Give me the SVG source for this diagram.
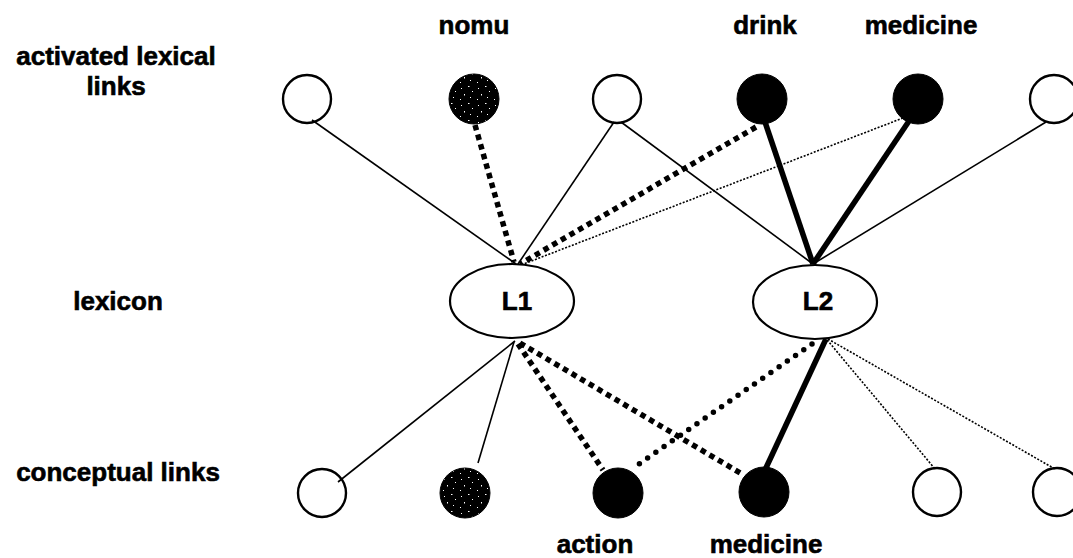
<svg xmlns="http://www.w3.org/2000/svg" width="1073" height="558" viewBox="0 0 1073 558">
<style>
  .lbl { font-family: "Liberation Sans", Arial, sans-serif; font-weight: bold; font-size: 26px; fill: #000; stroke: #000; stroke-width: 0.6; }
  .open { fill: none; stroke: #000; stroke-width: 2.4; }
  .solid { fill: #000; stroke: #000; stroke-width: 1; }
  .speck { fill: url(#speckle); stroke: #000; stroke-width: 1; }
  .lex { fill: #fff; stroke: #000; stroke-width: 2.2; }
  .thin { stroke: #000; stroke-width: 1.6; fill: none; }
  .thick { stroke: #000; stroke-width: 5.5; fill: none; }
  .sq { stroke: #000; stroke-width: 5.5; stroke-dasharray: 5.5 4.5; fill: none; }
  .rd { stroke: #000; stroke-width: 5.5; stroke-dasharray: 0 10; stroke-linecap: round; fill: none; }
  .dot { stroke: #000; stroke-width: 1.6; stroke-dasharray: 2 1.6; fill: none; }
</style>
<defs>
  <pattern id="speckle" width="17" height="17" patternUnits="userSpaceOnUse">
    <rect width="17" height="17" fill="#000"/>
    <rect x="2" y="3" width="1" height="1" fill="#fff"/>
    <rect x="9" y="1" width="1.5" height="1" fill="#fff"/>
    <rect x="13" y="6" width="1" height="1" fill="#fff"/>
    <rect x="5" y="9" width="1" height="1.5" fill="#fff"/>
    <rect x="11" y="12" width="1" height="1" fill="#fff"/>
    <rect x="1" y="14" width="1" height="1" fill="#fff"/>
  </pattern>
</defs>
<rect width="1073" height="558" fill="#fff"/>

<g id="row-labels">
  <text class="lbl" x="116" y="65" text-anchor="middle">activated lexical</text>
  <text class="lbl" x="116" y="95" text-anchor="middle">links</text>
  <text class="lbl" x="118" y="310" text-anchor="middle">lexicon</text>
  <text class="lbl" x="118" y="481" text-anchor="middle">conceptual links</text>
</g>

<g id="connectors">
  <!-- top to L1 -->
  <line class="thin" x1="312" y1="120" x2="516" y2="264"/>
  <line class="sq" x1="475" y1="125" x2="514" y2="262"/>
  <line class="thin" x1="614" y1="122" x2="518" y2="264"/>
  <line class="sq" x1="756" y1="127" x2="520" y2="264"/>
  <line class="dot" x1="903" y1="118" x2="521" y2="265"/>
  <!-- top to L2 -->
  <line class="thin" x1="621" y1="122" x2="813" y2="264"/>
  <line class="thick" x1="765" y1="122" x2="813" y2="264"/>
  <line class="thick" x1="909" y1="121" x2="813" y2="264"/>
  <line class="thin" x1="1046" y1="122" x2="813" y2="264"/>
  <!-- L1 to bottom -->
  <line class="thin" x1="515" y1="341" x2="338" y2="482"/>
  <line class="thin" x1="514" y1="342" x2="478" y2="463"/>
  <line class="sq" x1="518" y1="344" x2="603" y2="470"/>
  <line class="sq" x1="520" y1="343" x2="742" y2="474"/>
  <!-- L2 to bottom -->
  <line class="rd" x1="812" y1="344" x2="636" y2="466"/>
  <line class="thick" x1="826" y1="339" x2="765" y2="470"/>
  <line class="dot" x1="818" y1="329" x2="935" y2="469"/>
  <line class="dot" x1="828" y1="339" x2="1055" y2="469"/>
</g>

<g id="n-top1"><circle class="open" cx="307" cy="99" r="24"/></g>
<g id="n-nomu">
  <circle class="speck" cx="474" cy="99" r="25"/>
  <text class="lbl" x="474" y="34" text-anchor="middle">nomu</text>
</g>
<g id="n-top3"><circle class="open" cx="617" cy="99" r="24"/></g>
<g id="n-drink">
  <circle class="solid" cx="762" cy="99" r="25"/>
  <text class="lbl" x="765" y="34" text-anchor="middle">drink</text>
</g>
<g id="n-medicine-top">
  <circle class="solid" cx="918" cy="99" r="25"/>
  <text class="lbl" x="921" y="34" text-anchor="middle">medicine</text>
</g>
<g id="n-top6"><circle class="open" cx="1054" cy="99" r="24"/></g>

<g id="n-L1">
  <ellipse class="lex" cx="512" cy="301" rx="62" ry="37"/>
  <text class="lbl" x="517" y="310" text-anchor="middle">L1</text>
</g>
<g id="n-L2">
  <ellipse class="lex" cx="815" cy="302" rx="62" ry="37"/>
  <text class="lbl" x="818" y="310" text-anchor="middle">L2</text>
</g>

<g id="n-bot1"><circle class="open" cx="322" cy="493" r="24"/></g>
<g id="n-bot2"><circle class="speck" cx="465" cy="493" r="25"/></g>
<g id="n-action">
  <circle class="solid" cx="618" cy="493" r="25"/>
  <text class="lbl" x="595" y="553" text-anchor="middle">action</text>
</g>
<g id="n-medicine-bot">
  <circle class="solid" cx="764" cy="492" r="25"/>
  <text class="lbl" x="766" y="553" text-anchor="middle">medicine</text>
</g>
<g id="n-bot5"><circle class="open" cx="937" cy="492" r="24"/></g>
<g id="n-bot6"><circle class="open" cx="1057" cy="492" r="24"/></g>
</svg>
